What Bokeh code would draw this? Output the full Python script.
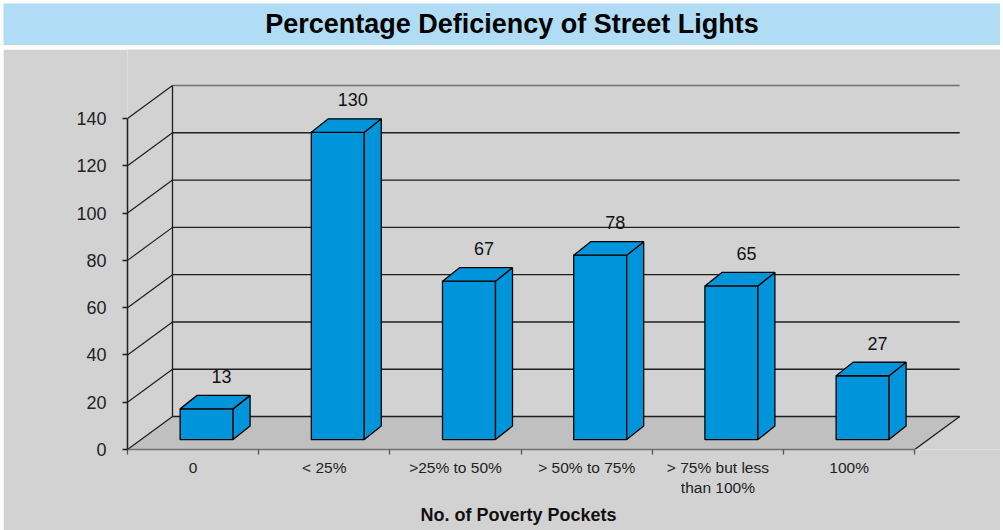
from bokeh.plotting import figure
from bokeh.models import Range1d, LinearAxis, FixedTicker, Title
from bokeh.layouts import column
from bokeh.embed import file_html
from bokeh.resources import INLINE
from bokeh.core.properties import value

# ---------------- data ----------------
chart_title = "Percentage Deficiency of Street Lights"
categories = ["0", "< 25%", ">25% to 50%", "> 50% to 75%",
              "> 75% but less\nthan 100%", "100%"]
counts = [13, 130, 67, 78, 65, 27]
y_ticks = [0, 20, 40, 60, 80, 100, 120, 140]
x_title = "No. of Poverty Pockets"

# ---------------- style / geometry ----------------
FONT = "Liberation Sans"
BLUE_BANNER = "#b0ddf5"
BG = "#d3d2d3"
FLOOR = "#c0c0c0"
BAR = "#0095db"
DARK = "#1e1e1e"
GREY_LINE = "#707070"

W = 997
H_BANNER = 42
H_MAIN = 481
LEFT = 124
BOTTOM = 81
PX = 131.2          # pixels per category
PY = 2.364          # pixels per value unit

DX = 45 / PX        # wall depth in x units
DY = 33 / PY        # wall depth in y units
BW = 53 / PX        # bar width
F = 0.30            # bar front position (fraction of depth)
BDX = 17 / PX       # bar depth (x)
BDY = 13.5 / PY     # bar depth (y)

n = len(categories)
ymax = y_ticks[-1]

# ---------------- banner ----------------
banner = figure(width=W, height=H_BANNER, x_range=Range1d(0, W), y_range=Range1d(0, H_BANNER),
                toolbar_location=None, output_backend="svg", min_border=0,
                x_axis_type=None, y_axis_type=None,
                background_fill_color=BLUE_BANNER, border_fill_color=BLUE_BANNER,
                outline_line_color=None, frame_align=False, margin=(3, 3, 0, 3))
banner.text(x=[W / 2 + 10], y=[21.5], text=[chart_title], text_font=value(FONT),
            text_font_style="bold", text_font_size="27px", text_color="#000000",
            text_align="center", text_baseline="middle")

# ---------------- main plot ----------------
x_end = (W - LEFT) / PX
y_end = (H_MAIN - BOTTOM) / PY
p = figure(width=W, height=H_MAIN, x_range=Range1d(0, x_end), y_range=Range1d(0, y_end),
           toolbar_location=None, output_backend="svg",
           x_axis_type=None, y_axis_type=None,
           min_border_left=LEFT, min_border_bottom=BOTTOM, min_border_top=0, min_border_right=0,
           background_fill_color=BG, border_fill_color=BG, outline_line_color=None,
           frame_align=False, margin=(0, 3, 0, 3))

# floor
p.patch(x=[0, n, n + DX, DX], y=[0, 0, DY, DY], fill_color=FLOOR, line_color=None)
p.segment(x0=[n], y0=[0], x1=[n + DX], y1=[DY], line_color=DARK, line_width=1.3)

# left wall diagonals & back wall gridlines
p.segment(x0=[0] * len(y_ticks), y0=y_ticks, x1=[DX] * len(y_ticks),
          y1=[t + DY for t in y_ticks], line_color=DARK, line_width=1.2)
p.segment(x0=[DX] * (len(y_ticks) - 1), y0=[t + DY for t in y_ticks[:-1]],
          x1=[n + DX] * (len(y_ticks) - 1), y1=[t + DY for t in y_ticks[:-1]],
          line_color=DARK, line_width=1.4)
p.segment(x0=[DX], y0=[ymax + DY], x1=[n + DX], y1=[ymax + DY],
          line_color=GREY_LINE, line_width=1.6)
p.segment(x0=[DX], y0=[DY], x1=[DX], y1=[ymax + DY], line_color=DARK, line_width=1.3)

# bars
fx = F * DX
fy = F * DY
lefts = [i + 0.5 + fx - BW / 2 for i in range(n)]
rights = [i + 0.5 + fx + BW / 2 for i in range(n)]
bottoms = [fy] * n
tops = [fy + v for v in counts]

p.quad(left=lefts, right=rights, bottom=bottoms, top=tops,
       fill_color=BAR, line_color="#000000", line_width=1.3)
side_xs = [[r, r + BDX, r + BDX, r] for r in rights]
side_ys = [[b, b + BDY, t + BDY, t] for b, t in zip(bottoms, tops)]
p.patches(xs=side_xs, ys=side_ys, fill_color=BAR, line_color="#000000", line_width=1.3)
top_xs = [[l, l + BDX, r + BDX, r] for l, r in zip(lefts, rights)]
top_ys = [[t, t + BDY, t + BDY, t] for t in tops]
p.patches(xs=top_xs, ys=top_ys, fill_color=BAR, line_color="#000000", line_width=1.3)

# value labels
p.text(x=[(l + r) / 2 + BDX for l, r in zip(lefts, rights)], y=[t + BDY for t in tops],
       text=[str(v) for v in counts], text_font=value(FONT), text_font_size="18px",
       text_color="#111111", text_align="center", text_baseline="middle",
       x_offset=-2, y_offset=-19)

# y axis
yaxis = LinearAxis(ticker=FixedTicker(ticks=y_ticks), bounds=(0, ymax))
yaxis.axis_line_color = DARK
yaxis.axis_line_width = 1.5
yaxis.major_tick_out = 5
yaxis.major_tick_in = 0
yaxis.major_tick_line_color = DARK
yaxis.major_tick_line_width = 1.3
yaxis.minor_tick_line_color = None
yaxis.major_label_standoff = 16
yaxis.major_label_text_font = FONT
yaxis.major_label_text_font_size = "18px"
yaxis.major_label_text_color = "#222222"
p.add_layout(yaxis, "left")

# x axis
centers = [i + 0.5 for i in range(n)]
xaxis = LinearAxis(ticker=FixedTicker(ticks=centers, minor_ticks=list(range(n + 1))),
                   bounds=(0, n))
xaxis.major_label_overrides = {c: lab for c, lab in zip(centers, categories)}
xaxis.axis_line_color = GREY_LINE
xaxis.axis_line_width = 1.5
xaxis.major_tick_out = 0
xaxis.major_tick_in = 0
xaxis.major_tick_line_color = None
xaxis.minor_tick_out = 5
xaxis.minor_tick_in = 0
xaxis.minor_tick_line_color = "#555555"
xaxis.minor_tick_line_width = 1.3
xaxis.major_label_standoff = 4
xaxis.major_label_text_font = FONT
xaxis.major_label_text_font_size = "15.5px"
xaxis.major_label_text_color = "#222222"
p.add_layout(xaxis, "below")

# x axis title, centred under the category axis (not the whole frame)
p.add_layout(Title(text=x_title, align="left", offset=293, standoff=8,
                   text_font=FONT, text_font_style="bold", text_font_size="18px",
                   text_color="#111111"), "below")

layout = column(banner, p, spacing=4)
open("out.html", "w").write(file_html(layout, INLINE))
